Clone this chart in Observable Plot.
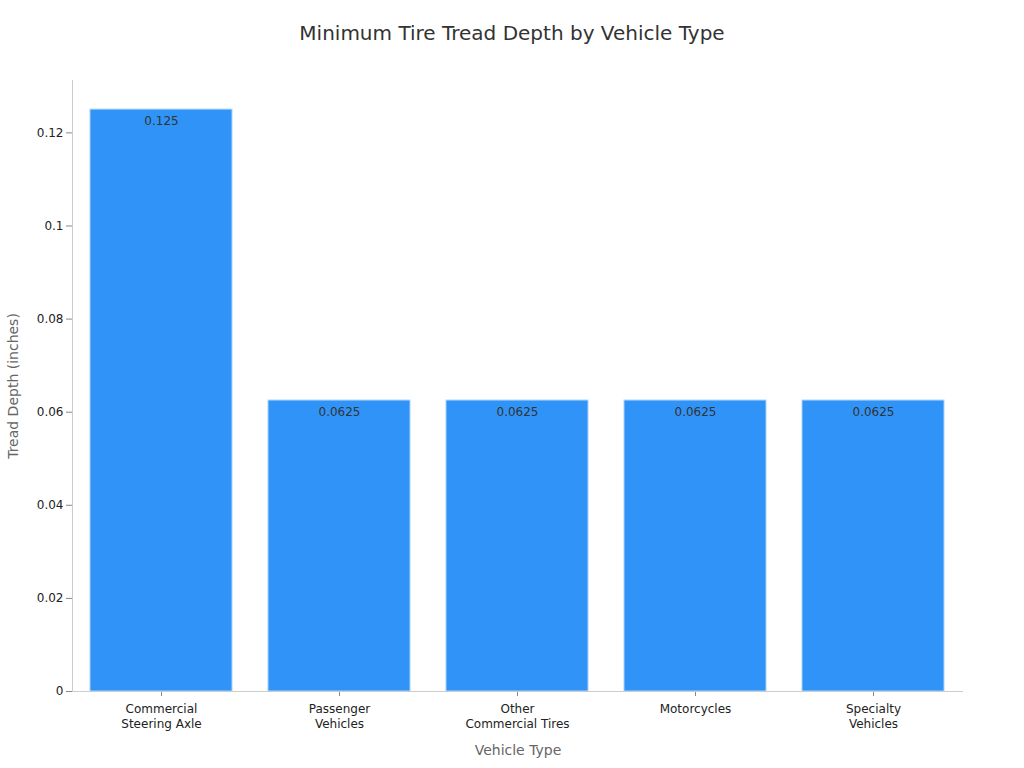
<!DOCTYPE html>
<html>
<head>
<meta charset="utf-8">
<script src="https://cdn.jsdelivr.net/npm/d3@7"></script>
<script src="https://cdn.jsdelivr.net/npm/@observablehq/plot@0.6"></script>
<style>
  body { margin: 0; background: #fff; font-family: "DejaVu Sans", sans-serif; }
  #title { height: 66px; line-height: 66px; text-align: center; font-size: 20px; color: #333; }
</style>
</head>
<body>
<div id="title">Minimum Tire Tread Depth by Vehicle Type</div>
<div id="chart"></div>
<script>
const categories = ["Commercial\nSteering Axle", "Passenger\nVehicles", "Other\nCommercial Tires", "Motorcycles", "Specialty\nVehicles"];
const values = [0.125, 0.0625, 0.0625, 0.0625, 0.0625];
const labels = ["0.125", "0.0625", "0.0625", "0.0625", "0.0625"];
const yTicks = [0, 0.02, 0.04, 0.06, 0.08, 0.1, 0.12];

const data = categories.map((c, i) => ({category: c, value: values[i], label: labels[i]}));

const chart = Plot.plot({
  width: 1024,
  height: 702,
  marginTop: 14,
  marginBottom: 77,
  marginLeft: 72,
  marginRight: 61,
  style: {fontFamily: "DejaVu Sans, sans-serif", fontSize: "12px", color: "#222"},
  x: {domain: categories, paddingInner: 0.2, paddingOuter: 0.1, label: null},
  y: {domain: [0, 0.13125], label: null},
  marks: [
    Plot.barY(data, {x: "category", y: "value", fill: "#3093f7", stroke: "#a9d2fb", strokeWidth: 1}),
    Plot.text(data, {x: "category", y: "value", text: "label", dy: 12, fill: "#333", fontSize: 12}),
    Plot.axisY({ticks: yTicks, tickFormat: d => String(d), tickSize: 6, tickPadding: 3, stroke: "#888", fontSize: 12, label: null}),
    Plot.axisX({tickSize: 5, tickPadding: 5, stroke: "#888", fontSize: 12, label: null, lineHeight: 1.3}),
    Plot.frame({anchor: "left", stroke: "#ccc"}),
    Plot.ruleY([0], {stroke: "#ccc"}),
    Plot.text(["Tread Depth (inches)"], {frameAnchor: "left", textAnchor: "middle", dx: -59, rotate: -90, fill: "#666", fontSize: 14}),
    Plot.text(["Vehicle Type"], {frameAnchor: "bottom", dy: 63, fill: "#666", fontSize: 14})
  ]
});
document.getElementById("chart").appendChild(chart);
</script>
</body>
</html>
